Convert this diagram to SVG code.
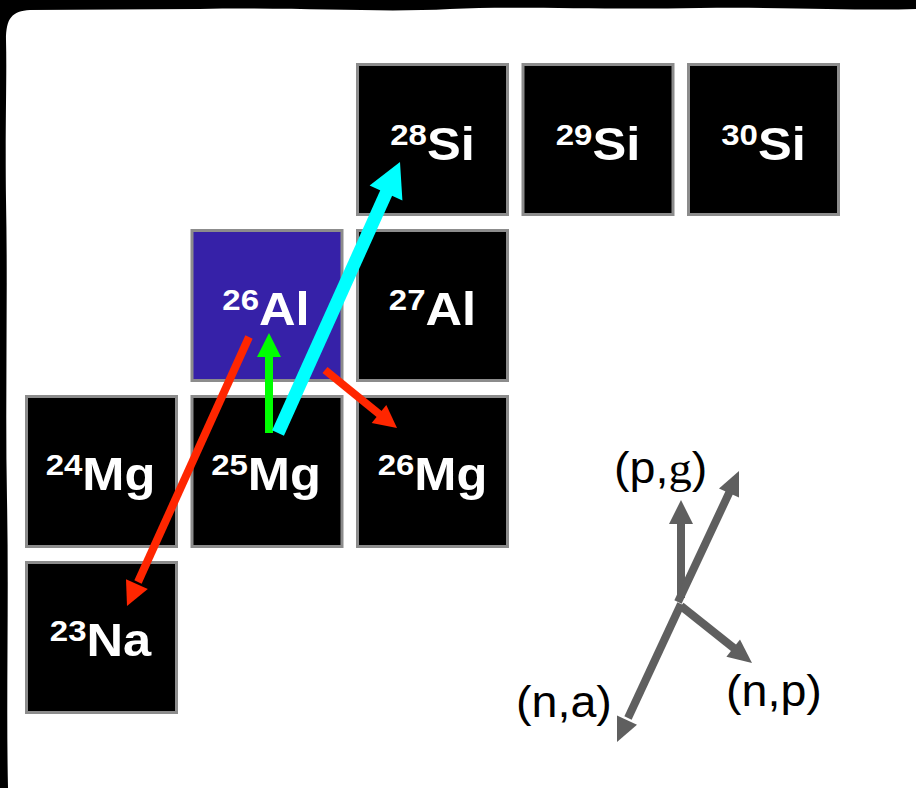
<svg xmlns="http://www.w3.org/2000/svg" width="916" height="788" viewBox="0 0 916 788">
<style>
.box{stroke:#8c8c8c;stroke-width:3;fill:#000}
.al{fill:#3621a8}
.lbl{font-family:"Liberation Sans",Arial,sans-serif;font-weight:bold;fill:#fff;text-anchor:middle}
.sup{font-size:30px}
.main{font-size:46px}
.leg{font-family:"Liberation Sans",Arial,sans-serif;font-size:44px;fill:#000}
.serif{font-family:"Liberation Serif","Times New Roman",serif}
.gl{stroke:#5f5f5f;stroke-width:8;fill:none}
.gh{fill:#5f5f5f}
</style>
<rect width="916" height="788" fill="#000"/>
<path d="M6,40 C6,18 12,11 30,10 L200,9 C300,7 380,13 450,9 C520,6 600,10 700,8 C800,7 860,11 916,9 L916,788 L8,788 C6,700 9,600 7,500 C5,400 8,300 6,200 C5,120 7,80 6,40 Z" fill="#fff"/>

<g id="si28"><rect class="box" x="357.5" y="64.5" width="150" height="150"/><text class="lbl" transform="translate(432.5,160) scale(1.1,1)"><tspan class="sup" dy="-15">28</tspan><tspan class="main" dy="15">Si</tspan></text></g>
<g id="si29"><rect class="box" x="523" y="64.5" width="150" height="150"/><text class="lbl" transform="translate(598,160) scale(1.1,1)"><tspan class="sup" dy="-15">29</tspan><tspan class="main" dy="15">Si</tspan></text></g>
<g id="si30"><rect class="box" x="688.5" y="64.5" width="150" height="150"/><text class="lbl" transform="translate(763.5,160) scale(1.1,1)"><tspan class="sup" dy="-15">30</tspan><tspan class="main" dy="15">Si</tspan></text></g>
<g id="al26"><rect class="box al" x="192" y="230.5" width="150" height="150"/><text class="lbl" transform="translate(266,325) scale(1.1,1)"><tspan class="sup" dy="-15">26</tspan><tspan class="main" dy="15">Al</tspan></text></g>
<g id="al27"><rect class="box" x="357.5" y="230.5" width="150" height="150"/><text class="lbl" transform="translate(432.5,325) scale(1.1,1)"><tspan class="sup" dy="-15">27</tspan><tspan class="main" dy="15">Al</tspan></text></g>
<g id="mg24"><rect class="box" x="26.5" y="396.5" width="150" height="150"/><text class="lbl" transform="translate(100.5,490) scale(1.1,1)"><tspan class="sup" dy="-15">24</tspan><tspan class="main" dy="15">Mg</tspan></text></g>
<g id="mg25"><rect class="box" x="192" y="396.5" width="150" height="150"/><text class="lbl" transform="translate(266,490) scale(1.1,1)"><tspan class="sup" dy="-15">25</tspan><tspan class="main" dy="15">Mg</tspan></text></g>
<g id="mg26"><rect class="box" x="357.5" y="396.5" width="150" height="150"/><text class="lbl" transform="translate(432.5,490) scale(1.1,1)"><tspan class="sup" dy="-15">26</tspan><tspan class="main" dy="15">Mg</tspan></text></g>
<g id="na23"><rect class="box" x="26.5" y="562.5" width="150" height="150"/><text class="lbl" transform="translate(100.5,656) scale(1.1,1)"><tspan class="sup" dy="-15">23</tspan><tspan class="main" dy="15">Na</tspan></text></g>

<g id="connectors">
<line x1="249" y1="337" x2="138" y2="582" stroke="#ff2600" stroke-width="8"/>
<polygon points="127,606 147.8,589 126,579.2" fill="#ff2600"/>
<line x1="325" y1="370" x2="381" y2="415.5" stroke="#ff2600" stroke-width="8"/>
<polygon points="397,428 386.3,404.9 371.7,423.1" fill="#ff2600"/>
<line x1="269" y1="433" x2="269" y2="355" stroke="#00ff00" stroke-width="8"/>
<polygon points="269,333 257,357 281,357" fill="#00ff00"/>
<line x1="278" y1="433" x2="388" y2="189" stroke="#00ffff" stroke-width="13"/>
<polygon points="400,162 402.4,200.4 369.6,185.6" fill="#00ffff"/>
</g>

<g id="legend">
<line class="gl" x1="681" y1="598" x2="681" y2="522"/>
<polygon class="gh" points="681,500 669,524 693,524"/>
<line class="gl" x1="678" y1="602" x2="730" y2="491"/>
<polygon class="gh" points="739,471 739,497.6 719,488.4"/>
<line class="gl" x1="681" y1="604" x2="628" y2="718"/>
<polygon class="gh" points="617,742 637,724.8 617,715.6"/>
<line class="gl" x1="681" y1="606" x2="735" y2="649"/>
<polygon class="gh" points="752,663 740,639.5 726.4,656.7"/>
<text class="leg" transform="translate(614,483) scale(1.06,1)">(p,<tspan class="serif">g</tspan>)</text>
<text class="leg" transform="translate(516,717) scale(1.06,1)">(n,a)</text>
<text class="leg" transform="translate(726,706) scale(1.06,1)">(n,p)</text>
</g>
</svg>
